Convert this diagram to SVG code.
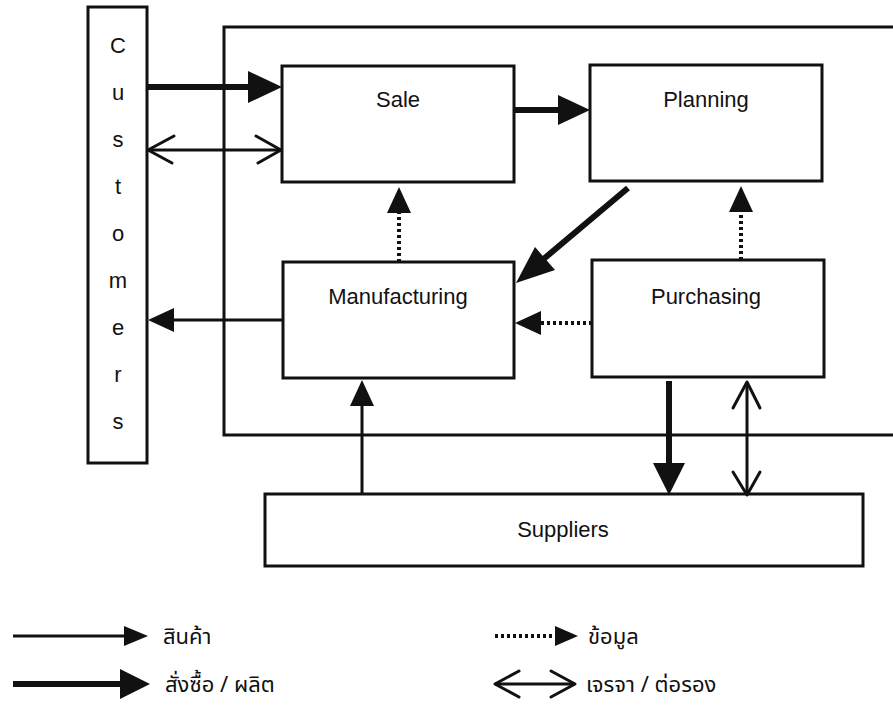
<svg xmlns="http://www.w3.org/2000/svg" width="893" height="709" viewBox="0 0 893 709">
<style>
.box{fill:#fff;stroke:#111;stroke-width:3}
.lbl{font-family:"Liberation Sans",Arial,sans-serif;font-size:22px;fill:#111;text-anchor:middle}
.th{font-family:"Noto Sans Thai","Loma","Garuda","DejaVu Sans","Liberation Sans",sans-serif;font-size:22px;fill:#111}
.thin{stroke:#111;stroke-width:3;fill:none}
.thick{stroke:#111;stroke-width:6;fill:none}
.dot{stroke:#111;stroke-width:4;stroke-dasharray:3 3;fill:none}
.head{fill:#111;stroke:none}
.open{stroke:#111;stroke-width:3;fill:none;stroke-linecap:round;stroke-linejoin:round}
</style>
<rect width="893" height="709" fill="#fff"/>
<g id="company">
<path d="M900 27 H224 V435 H900" style="fill:none;stroke:#111;stroke-width:3"/>
</g>
<g id="customers">
<rect x="88" y="7" width="59" height="456" class="box"/>
<text class="lbl" x="118" y="53">C</text>
<text class="lbl" x="118" y="100">u</text>
<text class="lbl" x="118" y="147">s</text>
<text class="lbl" x="118" y="194">t</text>
<text class="lbl" x="118" y="241">o</text>
<text class="lbl" x="118" y="288">m</text>
<text class="lbl" x="118" y="335">e</text>
<text class="lbl" x="118" y="382">r</text>
<text class="lbl" x="118" y="429">s</text>
</g>
<g id="sale">
<rect x="282" y="66" width="232" height="116" class="box"/>
<text class="lbl" x="398" y="107">Sale</text>
</g>
<g id="planning">
<rect x="590" y="65" width="232" height="116" class="box"/>
<text class="lbl" x="706" y="107">Planning</text>
</g>
<g id="manufacturing">
<rect x="283" y="262" width="231" height="116" class="box"/>
<text class="lbl" x="398" y="304">Manufacturing</text>
</g>
<g id="purchasing">
<rect x="592" y="260" width="232" height="117" class="box"/>
<text class="lbl" x="706" y="304">Purchasing</text>
</g>
<g id="suppliers">
<rect x="265" y="494" width="598" height="72" class="box"/>
<text class="lbl" x="563" y="537">Suppliers</text>
</g>
<g id="connectors">
<line x1="147" y1="87" x2="252" y2="87" class="thick"/>
<polygon points="282,87 248,71 248,103" class="head"/>
<line x1="148" y1="150" x2="281" y2="150" class="thin"/>
<polyline points="174,136 148,150 172,163" class="open"/>
<polyline points="256,136 281,150 258,163" class="open"/>
<line x1="514" y1="110" x2="562" y2="110" class="thick"/>
<polygon points="590,110 558,95 558,125" class="head"/>
<line x1="399" y1="262" x2="399" y2="212" class="dot"/>
<polygon points="399,187 387,213 411,213" class="head"/>
<line x1="628" y1="188" x2="540" y2="262" class="thick"/>
<polygon points="516,283 535,247 555,270" class="head"/>
<line x1="741" y1="260" x2="741" y2="211" class="dot"/>
<polygon points="741,186 729,212 753,212" class="head"/>
<line x1="592" y1="323" x2="538" y2="323" class="dot"/>
<polygon points="515,323 541,311 541,335" class="head"/>
<line x1="283" y1="320" x2="172" y2="320" class="thin"/>
<polygon points="148,320 174,308 174,332" class="head"/>
<line x1="362" y1="494" x2="362" y2="404" class="thin"/>
<polygon points="362,380 350,406 374,406" class="head"/>
<line x1="669" y1="381" x2="669" y2="466" class="thick"/>
<polygon points="669,495 653,463 685,463" class="head"/>
<line x1="747" y1="382" x2="747" y2="495" class="thin"/>
<polyline points="733,408 747,382 760,408" class="open"/>
<polyline points="733,472 747,495 760,472" class="open"/>
</g>
<g id="legend">
<line x1="13" y1="636" x2="128" y2="636" class="thin"/>
<polygon points="148,636 124,626 124,646" class="head"/>
<text class="th" x="163" y="644">สินค้า</text>
<line x1="13" y1="684" x2="124" y2="684" class="thick"/>
<polygon points="150,684 120,669 120,699" class="head"/>
<text class="th" x="165" y="692">สั่งซื้อ / ผลิต</text>
<line x1="495" y1="636" x2="557" y2="636" class="dot"/>
<polygon points="578,636 555,626 555,646" class="head"/>
<text class="th" x="588" y="644">ข้อมูล</text>
<line x1="495" y1="684" x2="575" y2="684" class="thin"/>
<polyline points="519,671 495,684 519,697" class="open"/>
<polyline points="551,671 575,684 551,697" class="open"/>
<text class="th" x="586" y="692">เจรจา / ต่อรอง</text>
</g>
</svg>
